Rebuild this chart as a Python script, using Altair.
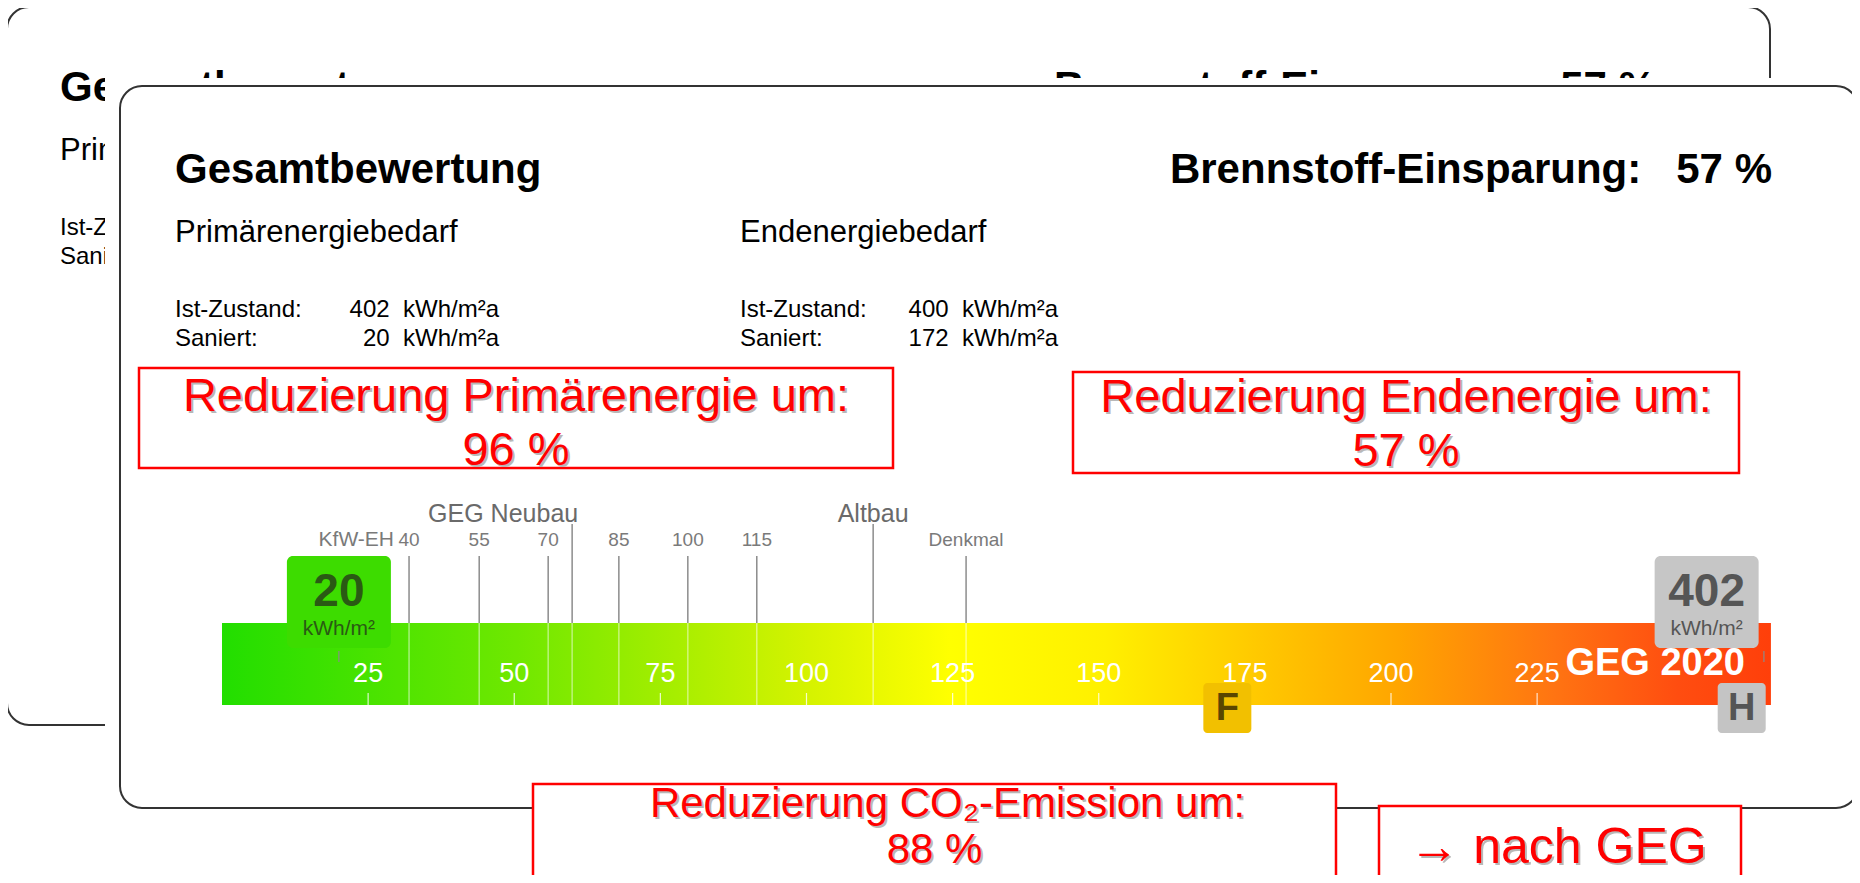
import altair as alt
import pandas as pd

# ---------------- data ----------------
title_text = "Gesamtbewertung"
saving_label = "Brennstoff-Einsparung:"
fuel_saving_pct = 57
demand_titles = ["Primärenergiebedarf", "Endenergiebedarf"]
state_labels = ["Ist-Zustand:", "Saniert:"]
primary_kwh = [402, 20]
final_kwh = [400, 172]
reduction_titles = ["Reduzierung Primärenergie um:", "Reduzierung Endenergie um:",
                    "Reduzierung CO₂-Emission um:"]
reduction_pct = [96, 57, 88]
note_text = "→ nach GEG"

scale_ticks = [25, 50, 75, 100, 125, 150, 175, 200, 225]
scale_end = 265
level_labels = ["40", "55", "70", "85", "100", "115", "Denkmal"]
level_pos = [32.0, 44.0, 55.8, 67.9, 79.7, 91.5, 127.3]
group_labels = ["GEG Neubau", "Altbau"]
group_label_pos = [48.1, 111.4]
group_end_pos = [59.9, 111.4]
kfw_label = "KfW-EH"
standard_label = "GEG 2020"
class_letters = ["H", "F"]          # classes for final_kwh
unit_label = "kWh/m²"
primary_cap = 254                   # markers beyond the scale are parked at its end
class_cap = 260

# ---------------- style / layout ----------------
FONT = "Liberation Sans"
OFF = 8
W, H = 1844, 867
BAR_LEFT, PX_PER_UNIT = 222, 5.845
RED = "#ff0000"
NB = "\u00a0"

def px(v):
    return alt.value(v - OFF)

xs = alt.Scale(domain=[-(BAR_LEFT - OFF) / PX_PER_UNIT, (W - (BAR_LEFT - OFF)) / PX_PER_UNIT],
               nice=False, zero=False)
ONE = pd.DataFrame({"k": [0]})

def XQ(field):
    return alt.X(f"{field}:Q", scale=xs, axis=None)

def R(x1, y1, x2, y2, **kw):
    return alt.Chart(ONE).mark_rect(**kw).encode(x=px(x1), x2=px(x2), y=px(y1), y2=px(y2))

def T(text, x, y, size, color="#000000", weight="normal", align="left", **kw):
    return alt.Chart(pd.DataFrame({"t": [text]})).mark_text(
        align=align, baseline="middle", fontSize=size, fontWeight=weight, color=color, font=FONT, **kw
    ).encode(x=px(x), y=px(y), text="t:N")

def RT(text, x, y, size=47):
    # red text with a soft grey drop shadow
    return [T(text, x + 2, y + 2, size, color="#b8b8b8", align="center"),
            T(text, x, y, size, color=RED, align="center")]

def XT(df, field, y, size, color, weight="normal", align="center", **kw):
    return alt.Chart(df).mark_text(align=align, baseline="middle", fontSize=size, fontWeight=weight,
                                   color=color, font=FONT, **kw).encode(
        x=XQ(field), y=px(y), text="t:N")

layers = []

# ---- back panel (mostly hidden behind the front one) ----
layers.append(R(7, 7, 1770, 725, fill="white", stroke="#333333", strokeWidth=2, cornerRadius=22))
BX, BY = -115, -82
layers.append(T(title_text, 175 + BX, 170 + BY, 42, weight="bold"))
layers.append(T(f"{saving_label}{NB*3}{fuel_saving_pct}{NB}%", 1771 + BX, 170 + BY, 42, weight="bold",
                align="right"))
layers.append(T(demand_titles[0], 175 + BX, 233 + BY, 31, limit=82, ellipsis=NB))
for i, s in enumerate(state_labels):
    layers.append(T(s, 175 + BX, 310 + BY + 29 * i, 24, limit=82, ellipsis=NB))

# ---- front panel ----
layers.append(R(105, 78, 1852, 822, fill="white"))
layers.append(R(120, 86, 1858, 808, fill="white", stroke="#333333", strokeWidth=2, cornerRadius=22))

layers.append(T(title_text, 175, 170, 42, weight="bold"))
layers.append(T(f"{saving_label}{NB*3}{fuel_saving_pct}{NB}%", 1772, 170, 42, weight="bold", align="right"))
for j, (tx, right, vals) in enumerate([(175, 499, primary_kwh), (740, 1058, final_kwh)]):
    layers.append(T(demand_titles[j], tx, 233, 31))
    for i, s in enumerate(state_labels):
        layers.append(T(s, tx, 310 + 29 * i, 24))
        layers.append(T(f"{vals[i]}{NB*2}kWh/m²a", right, 310 + 29 * i, 24, align="right"))

# ---- energy scale ----
grad = alt.LinearGradient(
    gradient="linear", x1=0, x2=1, y1=0, y2=0,
    stops=[alt.GradientStop(color=c, offset=o) for c, o in [
        ("#22de00", 0.0), ("#6fe800", 0.19), ("#d6f300", 0.38), ("#ffff00", 0.47),
        ("#fff000", 0.57), ("#ffcc00", 0.66), ("#ffa500", 0.76), ("#ff7412", 0.86),
        ("#ff4d10", 0.94), ("#ff3f0a", 1.0)]])
layers.append(alt.Chart(pd.DataFrame({"a": [0], "b": [scale_end]})).mark_rect(fill=grad).encode(
    x=XQ("a"), x2="b:Q", y=px(623), y2=px(705)))

df_lv = pd.DataFrame({"p": level_pos, "t": level_labels})
df_gr = pd.DataFrame({"p": group_end_pos})
layers.append(alt.Chart(df_lv).mark_rule(color="#7a7a7a", strokeWidth=1.3).encode(
    x=XQ("p"), y=px(556), y2=px(623)))
layers.append(alt.Chart(df_gr).mark_rule(color="#7a7a7a", strokeWidth=1.3).encode(
    x=XQ("p"), y=px(524), y2=px(623)))
layers.append(alt.Chart(pd.concat([df_lv[["p"]], df_gr])).mark_rule(
    color="white", strokeWidth=1.3, opacity=0.55).encode(x=XQ("p"), y=px(623), y2=px(705)))

layers.append(XT(df_lv[df_lv.t != "Denkmal"], "p", 540, 19, "#7a7a7a"))
layers.append(XT(df_lv[df_lv.t == "Denkmal"], "p", 540, 19, "#7a7a7a"))
layers.append(XT(pd.DataFrame({"p": [level_pos[0]], "t": [kfw_label]}), "p", 540, 21, "#7a7a7a",
                 align="right", dx=-15))
layers.append(XT(pd.DataFrame({"p": group_label_pos, "t": group_labels}), "p", 514, 25, "#6a6a6a"))

df_tk = pd.DataFrame({"v": scale_ticks, "t": [str(v) for v in scale_ticks]})
layers.append(alt.Chart(df_tk).mark_rule(color="white", strokeWidth=1.2, opacity=0.8).encode(
    x=XQ("v"), y=px(693), y2=px(705)))
layers.append(XT(df_tk, "v", 674, 27, "white"))
layers.append(T(standard_label, 1745, 664, 38, color="white", weight="bold", align="right"))

# primary-energy markers (boxes above the bar): one layer set per value
pm_styles = {True: ("#3ddc00", "#2a5a14"), False: ("#c6c6c6", "#555555")}
for v in primary_kwh:
    d = pd.DataFrame({"v": [v], "t": [str(v)], "u": [unit_label]})
    d["p"] = d["v"].clip(upper=primary_cap)
    d["tip"] = d["v"].clip(upper=scale_end - 1.2)
    fill, ink = pm_styles[v <= scale_end]
    layers.append(alt.Chart(d).mark_rule(color="#8a8a8a", strokeWidth=1.2).encode(
        x=XQ("tip"), y=px(651), y2=px(662)))
    layers.append(alt.Chart(d).mark_rect(xOffset=-52, x2Offset=52, cornerRadius=6, color=fill).encode(
        x=XQ("p"), x2="p:Q", y=px(556), y2=px(648)))
    layers.append(alt.Chart(d).mark_text(baseline="middle", fontSize=46, fontWeight="bold", font=FONT,
                                         color=ink).encode(x=XQ("p"), y=px(592), text="t:N"))
    layers.append(alt.Chart(d).mark_text(baseline="middle", fontSize=21, font=FONT, color=ink).encode(
        x=XQ("p"), y=px(629), text="u:N"))

# final-energy class markers (boxes below the bar)
cl_styles = {True: ("#f2c000", "#5a4600"), False: ("#c4c4c4", "#555555")}
for v, letter in zip(final_kwh, class_letters):
    d = pd.DataFrame({"v": [v], "t": [letter]})
    d["p"] = d["v"].clip(upper=class_cap)
    fill, ink = cl_styles[v <= scale_end]
    layers.append(alt.Chart(d).mark_rect(xOffset=-24, x2Offset=24, cornerRadius=4, color=fill).encode(
        x=XQ("p"), x2="p:Q", y=px(683), y2=px(733)))
    layers.append(alt.Chart(d).mark_text(baseline="middle", fontSize=38, fontWeight="bold", font=FONT,
                                         color=ink).encode(x=XQ("p"), y=px(709), text="t:N"))

# ---- red annotation boxes ----
boxes = [(139, 368, 893, 468, 397, 451, 0, 47), (1073, 372, 1739, 473, 398, 452, 0, 47),
         (533, 784, 1336, 900, 804, 850, 13, 42)]
for (x1, y1, x2, y2, l1, l2, shift, fs), ttl, pct in zip(boxes, reduction_titles, reduction_pct):
    layers.append(R(x1, y1, x2, y2, fill="white", stroke=RED, strokeWidth=2.5))
    cx = (x1 + x2) / 2
    layers += RT(ttl, cx + shift, l1, fs)
    layers += RT(f"{pct}{NB}%", cx, l2, fs)
layers.append(R(1379, 806, 1741, 900, fill="white", stroke=RED, strokeWidth=2.5))
layers += RT(note_text, 1558, 848, 50)

chart = alt.layer(*layers).properties(
    width=W, height=H, autosize=alt.AutoSizeParams(type="none"), padding=0,
    background="white",
).configure_view(stroke=None)

chart.save("out.html", embed_options={"renderer": "svg", "actions": False})
